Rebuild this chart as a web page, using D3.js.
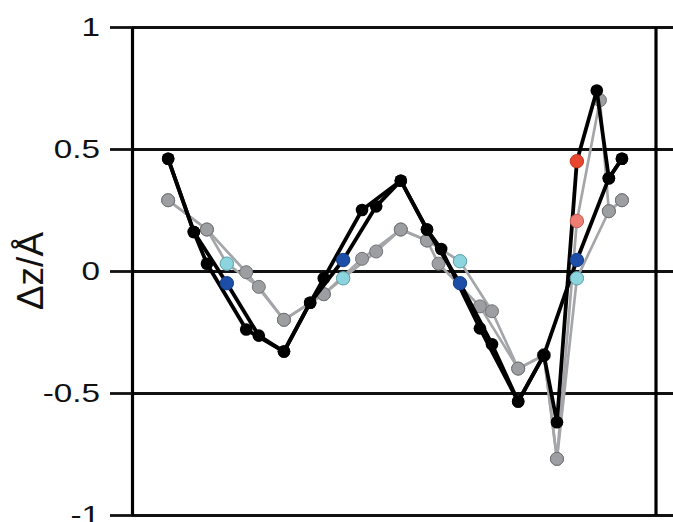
<!DOCTYPE html>
<html>
<head>
<meta charset="utf-8">
<script src="https://cdn.jsdelivr.net/npm/d3@7"></script>
<style>
  html, body { margin: 0; padding: 0; background: #fff; }
  svg { display: block; font-family: Arial, "Liberation Sans", sans-serif; }
</style>
</head>
<body>
<svg id="chart" width="673" height="522"></svg>
<script>
/*** DATA ***/
// position along the cut (arbitrary units) and dz in Angstrom
// tag: "a" = red/pink site, "b" = blue/cyan site, "" = plain
var pos_black1 = [6.9, 11.8, 14.3, 21.8, 29.0, 34.0, 36.6, 43.9, 51.3, 56.3, 59.0, 66.4, 73.7, 78.6, 81.1, 84.9, 88.7, 91.0, 93.5];
var dz_black1  = [0.46, 0.16, 0.03, -0.24, -0.33, -0.13, -0.03, 0.25, 0.37, 0.17, 0.09, -0.235, -0.535, -0.345, -0.62, 0.45, 0.74, 0.38, 0.46];
var tag_black1 = ["", "", "", "", "", "", "", "", "", "", "", "", "", "", "", "a", "", "", ""];

var pos_black2 = [6.9, 11.8, 18.1, 24.2, 29.0, 34.0, 40.3, 46.6, 51.3, 56.3, 62.6, 68.7, 73.7, 78.6, 84.9, 91.0, 93.5];
var dz_black2  = [0.46, 0.16, -0.05, -0.265, -0.33, -0.13, 0.045, 0.265, 0.37, 0.17, -0.05, -0.30, -0.535, -0.345, 0.045, 0.38, 0.46];
var tag_black2 = ["", "", "b", "", "", "", "b", "", "", "", "b", "", "", "", "b", "", ""];

var pos_grey1 = [6.9, 14.3, 21.8, 29.0, 36.6, 43.9, 51.3, 56.3, 58.5, 66.4, 73.7, 78.6, 81.1, 84.9, 89.3, 91.0, 93.5];
var dz_grey1  = [0.29, 0.17, -0.005, -0.20, -0.095, 0.05, 0.17, 0.125, 0.03, -0.145, -0.40, -0.345, -0.77, 0.205, 0.70, 0.245, 0.29];
var tag_grey1 = ["", "", "", "", "", "", "", "", "", "", "", "", "", "a", "", "", ""];

var pos_grey2 = [6.9, 14.3, 18.1, 24.2, 29.0, 36.6, 40.3, 46.6, 51.3, 56.3, 62.6, 68.7, 73.7, 78.6, 81.1, 84.9, 91.0, 93.5];
var dz_grey2  = [0.29, 0.17, 0.03, -0.065, -0.20, -0.095, -0.03, 0.08, 0.17, 0.125, 0.04, -0.165, -0.40, -0.345, -0.77, -0.03, 0.245, 0.29];
var tag_grey2 = ["", "", "b", "", "", "", "b", "", "", "", "b", "", "", "", "", "b", "", ""];

var y_ticks = [-1, -0.5, 0, 0.5, 1];
var y_title = "Δz/Å";

/*** LAYOUT ***/
var svg = d3.select('#chart');
var W = 673, H = 522;
var plot = {left: 132, right: 656, top: 27, bottom: 515};

var x = d3.scaleLinear().domain([0, 100]).range([plot.left, plot.right]);
var y = d3.scaleLinear().domain([-1, 1]).range([plot.bottom, plot.top]);

function zip(px, py, pt) {
    return px.map(function(d, i) { return {x: d, y: py[i], tag: pt[i]}; });
}

// gridlines across (incl. past the right frame)
svg.append('g')
    .attr('transform', `translate(${plot.left}, 0)`)
    .call(d3.axisLeft(y).tickValues(y_ticks).tickSize(-(W - plot.left + 10)).tickFormat(''))
    .call(function(g) {
        g.select('.domain').remove();
        g.selectAll('line').attr('stroke', '#111').attr('stroke-width', 2.8);
    });

// left axis with outward ticks and labels
var ax = svg.append('g')
    .attr('transform', `translate(${plot.left}, 0)`)
    .call(d3.axisLeft(y).tickValues(y_ticks).tickSizeInner(22).tickSizeOuter(0).tickPadding(10)
            .tickFormat(function(d) { return String(d); }));
ax.select('.domain').attr('stroke', '#000').attr('stroke-width', 3.2);
ax.selectAll('line').attr('stroke', '#111').attr('stroke-width', 2.8);
ax.selectAll('text')
    .attr('font-size', 25)
    .attr('fill', '#111')
    .style('font-family', 'Arial, "Liberation Sans", sans-serif')
    .each(function() {
        var len = this.getComputedTextLength();
        d3.select(this).attr('textLength', len * 1.33).attr('lengthAdjust', 'spacingAndGlyphs');
    });

// right frame line
svg.append('line')
    .attr('x1', plot.right).attr('x2', plot.right)
    .attr('y1', y(1)).attr('y2', y(-1))
    .attr('stroke', '#000').attr('stroke-width', 3.2);

// y title
svg.append('text')
    .attr('transform', `translate(43, ${y(0)}) rotate(-90)`)
    .attr('text-anchor', 'middle')
    .attr('font-size', 37)
    .attr('fill', '#111')
    .text(y_title);

/*** SERIES ***/
var line = d3.line().x(function(d) { return x(d.x); }).y(function(d) { return y(d.y); });

var grey1 = zip(pos_grey1, dz_grey1, tag_grey1),
    grey2 = zip(pos_grey2, dz_grey2, tag_grey2),
    black1 = zip(pos_black1, dz_black1, tag_black1),
    black2 = zip(pos_black2, dz_black2, tag_black2);

var grey_col = {"": '#9c9ea1', a: '#ee7d74', b: '#8dd5de'},
    grey_stroke = {"": '#707275', a: '#c85a52', b: '#5a9ca4'},
    black_col = {"": '#000', a: '#e8472f', b: '#1c4ea8'},
    black_stroke = {"": '#000', a: '#c7341f', b: '#163f8a'};

[grey1, grey2].forEach(function(s) {
    svg.append('path').datum(s)
        .attr('d', line)
        .attr('fill', 'none')
        .attr('stroke', '#a4a6a9')
        .attr('stroke-width', 2.7)
        .attr('stroke-linejoin', 'round');
});

[grey1, grey2].forEach(function(s) {
    svg.append('g').selectAll('circle')
        .data(s.filter(function(d) { return d.tag === ""; }))
        .join('circle')
        .attr('cx', function(d) { return x(d.x); })
        .attr('cy', function(d) { return y(d.y); })
        .attr('r', 6.5)
        .attr('fill', grey_col[""])
        .attr('stroke', grey_stroke[""])
        .attr('stroke-width', 1);
});

[black1, black2].forEach(function(s) {
    svg.append('path').datum(s)
        .attr('d', line)
        .attr('fill', 'none')
        .attr('stroke', '#000')
        .attr('stroke-width', 3.8)
        .attr('stroke-linejoin', 'round');
});

[black1, black2].forEach(function(s) {
    svg.append('g').selectAll('circle')
        .data(s.filter(function(d) { return d.tag === ""; }))
        .join('circle')
        .attr('cx', function(d) { return x(d.x); })
        .attr('cy', function(d) { return y(d.y); })
        .attr('r', 6.3)
        .attr('fill', '#000');
});

// highlighted sites on top
[[grey1, grey_col, grey_stroke], [grey2, grey_col, grey_stroke],
 [black1, black_col, black_stroke], [black2, black_col, black_stroke]].forEach(function(p) {
    svg.append('g').selectAll('circle')
        .data(p[0].filter(function(d) { return d.tag !== ""; }))
        .join('circle')
        .attr('cx', function(d) { return x(d.x); })
        .attr('cy', function(d) { return y(d.y); })
        .attr('r', 6.7)
        .attr('fill', function(d) { return p[1][d.tag]; })
        .attr('stroke', function(d) { return p[2][d.tag]; })
        .attr('stroke-width', 1);
});
</script>
</body>
</html>
